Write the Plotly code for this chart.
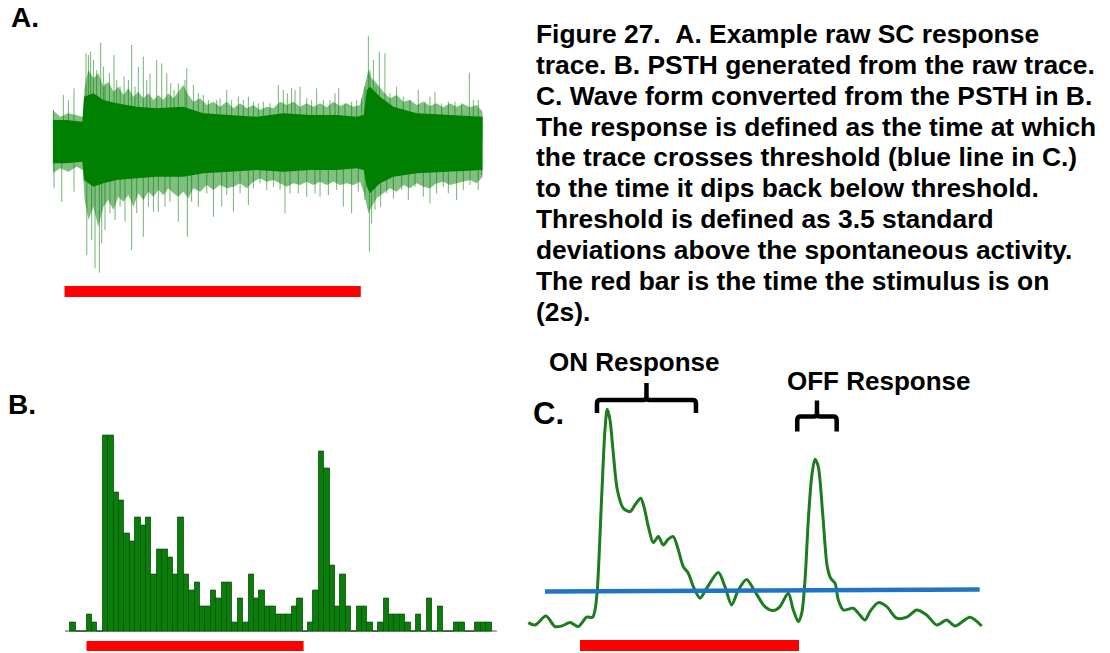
import plotly.graph_objects as go

W, H = 1110, 653

# ---------------- Panel A: raw SC trace (time in ms, amplitude in uV) ----------------
# solid core of the trace
core_t = [0, 95, 200, 212, 275, 342, 432, 567, 702, 882, 1017, 1197, 1377, 1557,
          1737, 1917, 2052, 2100, 2120, 2142, 2210, 2300, 2457, 2682, 2903]
core_hi = [65, 65, 60, 135, 145, 125, 115, 105, 100, 105, 85, 80, 75, 85,
           80, 80, 75, 80, 155, 165, 135, 105, 85, 80, 75]
core_lo = [-65, -65, -60, -115, -135, -125, -115, -110, -105, -105, -95, -90, -85, -90,
           -85, -85, -80, -85, -135, -155, -125, -105, -95, -90, -85]

# dense outer hair of the trace
hair_t = [0, 50, 106, 162, 203, 216, 241, 275, 308, 342, 376, 410, 443, 477, 511, 545, 578,
          612, 646, 680, 713, 747, 781, 815, 848, 882, 916, 950, 995, 1040, 1085, 1130, 1175,
          1220, 1265, 1310, 1355, 1400, 1445, 1490, 1535, 1580, 1625, 1670, 1715, 1760, 1805,
          1850, 1895, 1940, 1985, 2030, 2075, 2102, 2131, 2153, 2187, 2232, 2277, 2322, 2367,
          2412, 2457, 2502, 2547, 2592, 2637, 2682, 2727, 2772, 2817, 2862, 2903]
hair_hi = [95, 75, 85, 80, 75, 165, 215, 190, 205, 165,
           180, 150, 165, 140, 160, 135, 150, 130, 145, 125,
           140, 125, 145, 130, 150, 170, 140, 120, 130, 110,
           120, 105, 120, 100, 115, 100, 110, 95, 105, 100,
           120, 110, 120, 105, 115, 105, 115, 103, 120, 107,
           115, 105, 110, 165, 215, 190, 175, 150, 130, 140,
           120, 125, 110, 120, 107, 115, 103, 115, 105, 113,
           103, 110, 90]
hair_lo = [-95, -80, -90, -75, -85, -175, -235, -195, -255, -195,
           -175, -205, -165, -180, -160, -195, -155, -175, -150, -165,
           -145, -160, -140, -155, -165, -150, -170, -140, -150, -130,
           -145, -130, -140, -135, -125, -140, -120, -110, -120, -115,
           -125, -135, -125, -130, -120, -130, -120, -130, -120, -130,
           -125, -130, -120, -155, -215, -195, -170, -155, -140, -150,
           -130, -140, -125, -135, -140, -125, -120, -130, -125, -120,
           -115, -125, -105]

# isolated large spikes
up_t = [5, 72, 106, 144, 225, 241, 256, 275, 297, 324, 342, 353, 383, 414, 432, 455, 482,
        511, 533, 556, 578, 612, 635, 657, 702, 736, 770, 797, 819, 848, 893, 905, 950,
        983, 1017, 1051, 1107, 1130, 1175, 1208, 1253, 1287, 1321, 1355, 1388, 1422, 1467,
        1523, 1557, 1584, 1613, 1636, 1670, 1715, 1748, 1782, 1827, 1872, 1906, 1931, 1973,
        2018, 2052, 2086, 2108, 2131, 2142, 2165, 2183, 2205, 2243, 2277, 2322, 2367, 2412,
        2468, 2513, 2547, 2581, 2626, 2671, 2716, 2761, 2813, 2840, 2873, 2903]
up_amp = [95, 140, 125, 160, 265, 260, 270, 245, 215, 297, 225, 175, 205, 260, 185, 165, 195,
          185, 290, 165, 225, 255, 185, 205, 245, 235, 205, 175, 155, 175, 185, 220, 170,
          145, 140, 125, 125, 130, 155, 125, 135, 125, 135, 120, 115, 120, 115,
          170, 155, 145, 160, 155, 165, 130, 125, 160, 125, 125, 145, 160, 115,
          120, 125, 130, 165, 317, 215, 245, 165, 270, 265, 145, 165, 135, 125,
          155, 120, 135, 150, 115, 120, 120, 115, 207, 125, 125, 75]
down_t = [9, 61, 144, 230, 263, 286, 315, 331, 353, 387, 421, 455, 488, 533, 567, 612, 646,
          680, 713, 758, 792, 848, 909, 938, 983, 1040, 1085, 1141, 1175, 1220, 1265, 1321,
          1355, 1400, 1445, 1490, 1535, 1568, 1602, 1658, 1715, 1771, 1805, 1861, 1917, 1962,
          2018, 2063, 2108, 2138, 2153, 2176, 2214, 2255, 2300, 2356, 2401, 2446, 2502, 2547,
          2592, 2637, 2671, 2727, 2772, 2817, 2873, 2896]
down_amp = [-140, -180, -150, -340, -295, -380, -393, -305, -265, -215, -235, -195, -240, -325,
            -215, -285, -195, -210, -210, -195, -180, -240, -285, -180, -195, -155, -225, -195,
            -160, -210, -155, -190, -140, -125, -145, -135, -145, -215, -155, -155, -165, -155,
            -165, -160, -145, -195, -215, -150, -175, -330, -245, -205, -195, -155, -170, -145,
            -175, -135, -165, -185, -155, -135, -155, -175, -145, -130, -145, -100]

stim_a_ms = [80, 2080]

# ---------------- Panel B: PSTH (50 ms bins, spike counts) ----------------
BIN_S = 0.05
psth_counts = [1, 0, 0, 2, 1, 0,
               24, 24, 17, 16, 12, 11, 14, 13, 14, 7, 10, 10, 9, 7, 14, 7, 5, 6, 3, 3,
               5, 4, 6, 6, 1, 4, 1, 7, 4, 5, 3, 3, 2,
               2, 2, 3, 4, 0, 1, 5, 22, 20, 8, 3, 7, 3, 0, 3, 3, 1, 0, 1, 4, 2,
               2, 2, 1, 0, 2, 0, 4, 0, 3, 0, 0, 1, 1, 0, 0, 1, 1, 1]
stim_b_s = [0.15, 2.16]

# ---------------- Panel C: smoothed waveform (time in s, rate in Hz) ----------------
wave_t = [-0.322, -0.261, -0.161, -0.078, -0.017, 0.059, 0.134, 0.211, 0.266, 0.287,
          0.308, 0.348, 0.378, 0.399, 0.424, 0.454, 0.491, 0.545, 0.607, 0.652,
          0.704, 0.734, 0.774, 0.819, 0.865, 0.911, 0.956, 1.002, 1.048, 1.093,
          1.139, 1.185, 1.246, 1.307, 1.413, 1.474, 1.535, 1.596, 1.671, 1.748,
          1.839, 1.915, 1.976, 2.052, 2.098, 2.144, 2.175, 2.205, 2.235, 2.266,
          2.296, 2.326, 2.366, 2.408, 2.439, 2.479, 2.509, 2.555, 2.646, 2.692,
          2.753, 2.798, 2.874, 2.951, 3.042, 3.134, 3.225, 3.316, 3.408, 3.499,
          3.575, 3.712, 3.818]
wave_rate = [3.7, 2.5, 7.0, 1.7, 2.0, 3.7, 1.7, 6.4, 6.4, 10.0,
             20.0, 66.7, 100.0, 110.4, 105.0, 88.4, 70.0, 60.9, 59.2, 62.5,
             65.9, 61.7, 51.7, 43.7, 46.7, 42.5, 45.4, 46.7, 40.0, 31.7,
             28.4, 21.7, 15.9, 20.9, 28.7, 21.7, 12.5, 20.0, 25.3, 19.2,
             11.7, 9.7, 11.7, 18.4, 10.0, 4.2, 8.4, 25.0, 55.0, 76.7,
             85.4, 81.7, 58.4, 31.7, 25.9, 23.4, 15.0, 10.0, 10.9, 8.4,
             5.0, 9.2, 13.7, 11.7, 5.9, 6.4, 10.0, 7.5, 2.5, 5.0,
             2.0, 6.4, 2.0]
threshold_t = [-0.17, 3.80]
threshold_rate = [19.2, 20.3]
stim_c_s = [0.15, 2.15]
on_window = [0.305, 1.209]
off_window = [2.134, 2.494]

caption_lines = [
    "Figure 27.\u00a0\u00a0A. Example raw SC response",
    "trace. B. PSTH generated from the raw trace.",
    "C. Wave form converted from the PSTH in B.",
    "The response is defined as the time at which",
    "the trace crosses threshold (blue line in C.)",
    "to the time it dips back below threshold.",
    "Threshold is defined as 3.5 standard",
    "deviations above the spontaneous activity.",
    "The red bar is the time the stimulus is on",
    "(2s).",
]

GREEN = "rgb(0,128,0)"
RED = "#ff0000"
FONT = "Liberation Sans, Arial, sans-serif"

fig = go.Figure()

# --- A: hairy outer band, individual spikes, solid core ---
fig.add_trace(go.Scatter(x=hair_t + hair_t[::-1], y=hair_hi + hair_lo[::-1],
                         fill="toself", fillcolor="rgba(0,128,0,0.5)",
                         line=dict(width=0), mode="lines", hoverinfo="skip",
                         xaxis="x", yaxis="y"))
spk_x, spk_y = [], []
for t, a in list(zip(up_t, up_amp)) + list(zip(down_t, down_amp)):
    spk_x += [t, t, None]
    spk_y += [0, a, None]
fig.add_trace(go.Scatter(x=spk_x, y=spk_y, mode="lines",
                         line=dict(color="rgba(0,120,0,0.55)", width=1),
                         hoverinfo="skip", xaxis="x", yaxis="y"))
fig.add_trace(go.Scatter(x=core_t + core_t[::-1], y=core_hi + core_lo[::-1],
                         fill="toself", fillcolor=GREEN,
                         line=dict(width=0), mode="lines", hoverinfo="skip",
                         xaxis="x", yaxis="y"))

# --- B: PSTH bars ---
bin_centers = [BIN_S * (i + 0.5) for i in range(len(psth_counts))]
fig.add_trace(go.Bar(x=bin_centers, y=psth_counts, width=BIN_S,
                     marker=dict(color="#0b7d0b", line=dict(color="#0a520a", width=0.8)),
                     hoverinfo="skip", xaxis="x2", yaxis="y2"))

# --- C: waveform and threshold ---
fig.add_trace(go.Scatter(x=wave_t, y=wave_rate, mode="lines",
                         line=dict(color="#1d7c1d", width=3, shape="spline", smoothing=0.8),
                         hoverinfo="skip", xaxis="x3", yaxis="y3"))
fig.add_trace(go.Scatter(x=threshold_t, y=threshold_rate, mode="lines",
                         line=dict(color="#1f74c6", width=4.5),
                         hoverinfo="skip", xaxis="x3", yaxis="y3"))

shapes = []
# stimulus bars
shapes.append(dict(type="rect", xref="x", yref="y", x0=stim_a_ms[0], x1=stim_a_ms[1],
                   y0=-466, y1=-433, fillcolor=RED, line=dict(width=0)))
shapes.append(dict(type="rect", xref="x2", yref="y2", x0=stim_b_s[0], x1=stim_b_s[1],
                   y0=-2.45, y1=-1.23, fillcolor=RED, line=dict(width=0)))
shapes.append(dict(type="rect", xref="x3", yref="y3", x0=stim_c_s[0], x1=stim_c_s[1],
                   y0=-10.5, y1=-5.0, fillcolor=RED, line=dict(width=0)))
# PSTH baseline
shapes.append(dict(type="line", xref="x2", yref="y2", x0=-0.05, x1=3.95, y0=0, y1=0,
                   line=dict(color="#8a8a8a", width=1.5), layer="below"))


def brace(x0, x1, y_leg, y_bar, y_tip, rx, ry):
    xm = (x0 + x1) / 2
    return (f"M {x0},{y_leg} L {x0},{y_bar - ry} Q {x0},{y_bar} {x0 + rx},{y_bar} "
            f"L {xm - rx},{y_bar} Q {xm},{y_bar} {xm},{y_bar + ry} L {xm},{y_tip} "
            f"M {xm},{y_bar + ry} Q {xm},{y_bar} {xm + rx},{y_bar} L {x1 - rx},{y_bar} "
            f"Q {x1},{y_bar} {x1},{y_bar - ry} L {x1},{y_leg}")


shapes.append(dict(type="path", xref="x3", yref="y3",
                   path=brace(on_window[0], on_window[1], 108.5, 115.0, 123.5, 0.03, 1.8),
                   line=dict(color="black", width=4.5)))
shapes.append(dict(type="path", xref="x3", yref="y3",
                   path=brace(off_window[0], off_window[1], 99.2, 106.7, 114.7, 0.03, 1.8),
                   line=dict(color="black", width=4.5)))


def label(px, py_base, text, size):
    yc = py_base - 0.3465 * size
    return dict(x=px / W, y=1 - yc / H, xref="paper", yref="paper", text=text,
                showarrow=False, xanchor="left", yanchor="middle",
                font=dict(family=FONT, size=size, color="black", weight="bold"))


annotations = [
    label(9, 27.5, "A.", 28),
    label(6, 414, "B.", 28),
    label(531, 424, "C.", 31),
    label(547, 371.5, "ON Response", 26),
    label(785, 390, "OFF Response", 26),
]
for i, line in enumerate(caption_lines):
    annotations.append(label(534, 43 + i * 30.9, line, 26.4))

hidden = dict(visible=False, fixedrange=True)
fig.update_layout(
    width=W, height=H, margin=dict(l=0, r=0, t=0, b=0),
    paper_bgcolor="white", plot_bgcolor="white", showlegend=False,
    bargap=0,
    xaxis=dict(domain=[52.7 / W, 482.7 / W], range=[0, 2903], anchor="y", **hidden),
    yaxis=dict(domain=[1 - 301.7 / H, 1 - 35 / H], range=[-480, 320], anchor="x", **hidden),
    xaxis2=dict(domain=[64.9 / W, 496.9 / W], range=[-0.05, 3.95], anchor="y2", **hidden),
    yaxis2=dict(domain=[1 - 652.2 / H, 1 - 427.5 / H], range=[-2.6, 25], anchor="x2", **hidden),
    xaxis3=dict(domain=[525.25 / W, 985.15 / W], range=[-0.35, 3.85], anchor="y3", **hidden),
    yaxis3=dict(domain=[1 - 652 / H, 1 - 378 / H], range=[-11, 126], anchor="x3", **hidden),
    shapes=shapes, annotations=annotations,
)

fig.write_html("out.html")
